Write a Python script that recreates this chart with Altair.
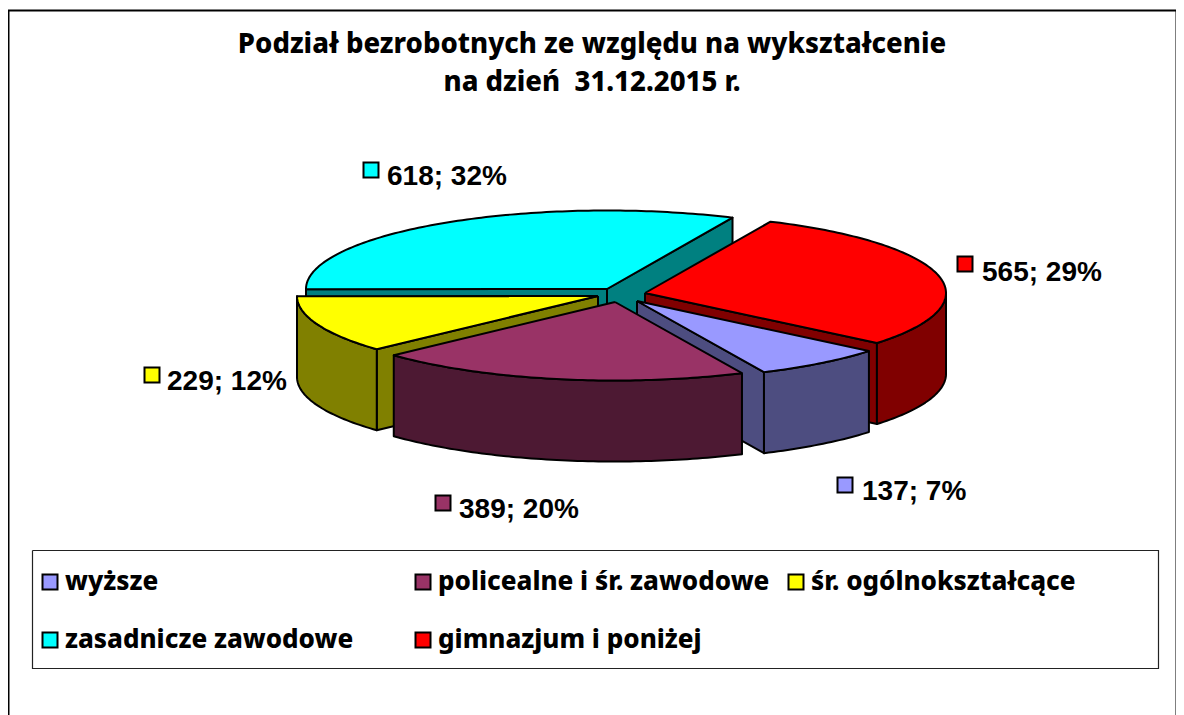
import math
import altair as alt
import pandas as pd

categories = ["wyższe", "policealne i śr. zawodowe", "śr. ogólnokształcące", "zasadnicze zawodowe", "gimnazjum i poniżej"]
values = [137, 389, 229, 618, 565]
percents = [7, 20, 12, 32, 29]
top_colors = ["#9999FF", "#993366", "#FFFF00", "#00FFFF", "#FF0000"]
wall_colors = ["#4D4D80", "#4D1933", "#808000", "#008080", "#800000"]
title_lines = ["Podział bezrobotnych ze względu na wykształcenie", "na dzień \u00a031.12.2015 r."]

# layout of the 3D pie, in page pixels
apex_x = [637, 615, 598, 607, 645]
apex_y = [301, 302, 296, 289, 293]
RX, RY, DEPTH = 301, 78.5, 81
START = 129.6
PAINT_ORDER = [3, 4, 2, 0, 1]
label_x = [862, 459, 167, 387, 982]
label_y = [500, 518, 390, 185, 281]
swatch_x = [845, 443, 152, 371, 965]
swatch_y = [485, 503, 375, 170, 264]

total = sum(values)
angles = [START]
for v in values:
    angles.append(angles[-1] + 360 * v / total)


def pt(i, t, drop=0):
    a = math.radians(t)
    return apex_x[i] + RX * math.sin(a), apex_y[i] - RY * math.cos(a) + drop


def faces_viewer(a):
    return math.cos(math.radians(a)) < 0


rows = []


def add_poly(name, fill, pts):
    pts = list(pts) + [pts[0]]
    for k, (x, y) in enumerate(pts):
        rows.append({"piece": name, "idx": k, "x": x, "y": y, "fill": fill})


for n, i in enumerate(PAINT_ORDER):
    t0, t1 = angles[i], angles[i + 1]
    if t0 >= 360:
        t0, t1 = t0 - 360, t1 - 360
    ap = (apex_x[i], apex_y[i])
    apb = (apex_x[i], apex_y[i] + DEPTH)
    if faces_viewer(t0 - 90):
        add_poly(f"{n:02d}a", wall_colors[i], [ap, pt(i, t0), pt(i, t0, DEPTH), apb])
    if faces_viewer(t1 + 90):
        add_poly(f"{n:02d}b", wall_colors[i], [ap, pt(i, t1), pt(i, t1, DEPTH), apb])
    # outer wall: only the part of the rim on the viewer's side
    lo, hi = max(t0, 90), min(t1, 270)
    if hi - lo > 1:
        steps = max(2, int(hi - lo))
        ts = [lo + (hi - lo) * s / steps for s in range(steps + 1)]
        add_poly(f"{n:02d}c", wall_colors[i], [pt(i, t) for t in ts] + [pt(i, t, DEPTH) for t in reversed(ts)])
    steps = max(2, int(t1 - t0))
    ts = [t0 + (t1 - t0) * s / steps for s in range(steps + 1)]
    add_poly(f"{n:02d}d", top_colors[i], [ap] + [pt(i, t) for t in ts])

pie_df = pd.DataFrame(rows)

labels_df = pd.DataFrame({
    "category": categories,
    "text": [f"{v}; {p}%" for v, p in zip(values, percents)],
    "lx": label_x,
    "ly": label_y,
    "sx": swatch_x,
    "sy": swatch_y,
})

frame_df = pd.DataFrame({"x": [8.5, 8.5, 1176.5, 1176.5], "y": [715, 10.5, 10.5, 715], "idx": [0, 1, 2, 3]})
box_df = pd.DataFrame({"x": [32.5, 1158.5, 1158.5, 32.5, 32.5], "y": [550.5, 550.5, 668.5, 668.5, 550.5], "idx": [0, 1, 2, 3, 4]})

X = alt.Scale(domain=[8, 1176], nice=False, zero=False)
Y = alt.Scale(domain=[715, 8], nice=False, zero=False)
x_enc = lambda f: alt.X(f, type="quantitative", scale=X, axis=None)
y_enc = lambda f: alt.Y(f, type="quantitative", scale=Y, axis=None)

frame = alt.Chart(frame_df).mark_line(color="black", strokeWidth=2).encode(
    x=x_enc("x"), y=y_enc("y"), order="idx:Q")
box = alt.Chart(box_df).mark_line(color="#222222", strokeWidth=1.2).encode(
    x=x_enc("x"), y=y_enc("y"), order="idx:Q")

pie = alt.Chart(pie_df).mark_line(stroke="black", strokeWidth=2, strokeJoin="round").encode(
    x=x_enc("x"), y=y_enc("y"), order="idx:Q", detail="piece:N",
    fill=alt.Fill("fill:N", scale=None),
)

swatches = alt.Chart(labels_df).mark_point(
    shape="square", filled=True, stroke="black", strokeWidth=2, size=225, opacity=1
).encode(
    x=x_enc("sx"), y=y_enc("sy"),
    color=alt.Color(
        "category:N",
        scale=alt.Scale(domain=categories, range=top_colors),
        legend=alt.Legend(
            title=None, orient="none", legendX=29, legendY=561, columns=3, direction="horizontal",
            gridAlign="all", columnPadding=13, rowPadding=32, padding=0,
            symbolType="square", symbolSize=225, symbolStrokeColor="black", symbolStrokeWidth=2,
            symbolOpacity=1, labelFont="Noto Sans", labelFontWeight=800, labelFontSize=26,
            labelColor="black", labelOffset=2, labelLimit=500,
        ),
    ),
)

texts = alt.Chart(labels_df).mark_text(
    font="Liberation Sans", fontWeight="bold", fontSize=28, align="left", baseline="alphabetic", color="black"
).encode(x=x_enc("lx"), y=y_enc("ly"), text="text:N")

chart = alt.layer(frame, box, pie, swatches, texts).properties(
    width=1168, height=707, padding=0, autosize=alt.AutoSizeParams(type="none"),
    title=alt.TitleParams(
        text=title_lines, anchor="middle", offset=-90, font="Noto Sans", fontWeight=800,
        fontSize=27.5, lineHeight=38, color="black",
    ),
).configure_view(stroke=None).configure_axis(grid=False)

chart.save("out.html", embed_options={"renderer": "svg", "actions": False})
